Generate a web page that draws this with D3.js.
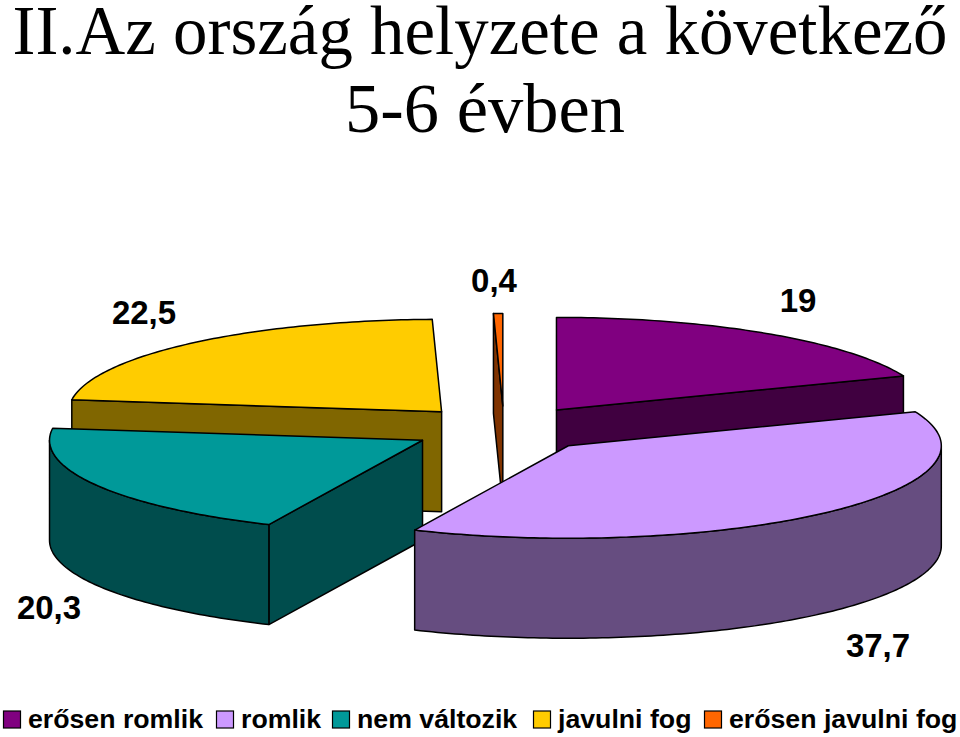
<!DOCTYPE html>
<html>
<head>
<meta charset="utf-8">
<script src="https://cdnjs.cloudflare.com/ajax/libs/d3/7.8.5/d3.min.js"></script>
<style>
html, body { margin: 0; padding: 0; background: #fff; }
svg { display: block; }
.title { font-family: "Liberation Serif", serif; font-size: 69px; fill: #000; text-anchor: middle; }
.val { font-family: "Liberation Sans", sans-serif; font-size: 33px; font-weight: bold; fill: #000; text-anchor: middle; }
.leg { font-family: "Liberation Sans", sans-serif; font-size: 26.7px; font-weight: bold; fill: #000; }
</style>
</head>
<body>
<svg width="960" height="737"></svg>
<script>
var categories = ["erősen romlik", "romlik", "nem változik", "javulni fog", "erősen javulni fog"];
var values = [19, 37.7, 20.3, 22.5, 0.4];
var valueLabels = ["19", "37,7", "20,3", "22,5", "0,4"];
var colors = ["#800080", "#CC99FF", "#009999", "#FFCC00", "#FF6600"];
var titleLines = ["II.Az ország helyzete a következő", "5-6 évben"];

var svg = d3.select("svg");

var cx = 504, cy = 429,
	rx = 373, ry = 92.5,
	depth = 100,
	explode = 0.25;

var pie = d3.pie().sort(null).value(function(d){ return d; });
var line = d3.line();

var slices = pie(values).map(function(d, i){
	var mid = (d.startAngle + d.endAngle) / 2;
	d.i = i;
	d.mid = mid;
	d.x = cx + explode * rx * Math.sin(mid);
	d.y = cy - explode * ry * Math.cos(mid);
	return d;
});

// rim point of a slice, at angle a and h pixels down
function rim(d, a, h){
	return [d.x + rx * Math.sin(a), d.y - ry * Math.cos(a) + h];
}

function arcPoints(d, a0, a1, h){
	var n = Math.max(2, Math.ceil((a1 - a0) * 60));
	return d3.range(n + 1).map(function(k){
		return rim(d, a0 + (a1 - a0) * k / n, h);
	});
}

function sideColor(c){
	var r = d3.rgb(c);
	return d3.rgb(r.r / 2, r.g / 2, r.b / 2).formatHex();
}

function wall(d, a){
	var p = rim(d, a, 0), q = rim(d, a, depth);
	return line([[d.x, d.y], p, q, [d.x, d.y + depth]]) + "Z";
}

// back slices first
var order = slices.slice().sort(function(a, b){ return Math.cos(b.mid) - Math.cos(a.mid); });

var groups = svg.append("g").selectAll("g").data(order).enter().append("g");

groups.each(function(d){
	var g = d3.select(this),
		fill = colors[d.i],
		side = sideColor(fill),
		faces = [];

	// the cut faces that look towards the viewer
	if (Math.sin(d.startAngle) < 0) faces.push(wall(d, d.startAngle));
	if (Math.sin(d.endAngle) > 1e-6) faces.push(wall(d, d.endAngle));

	// outer wall, front half only
	var a0 = Math.max(d.startAngle, Math.PI / 2),
		a1 = Math.min(d.endAngle, 3 * Math.PI / 2);
	if (a1 > a0) {
		faces.push(line(arcPoints(d, a0, a1, 0).concat(arcPoints(d, a0, a1, depth).reverse())) + "Z");
	}

	g.selectAll("path.side").data(faces).enter().append("path")
		.attr("class", "side")
		.attr("d", function(f){ return f; })
		.attr("fill", side)
		.attr("stroke", "#000")
		.attr("stroke-width", 1.5)
		.attr("stroke-linejoin", "round");

	g.append("path")
		.attr("d", line([[d.x, d.y]].concat(arcPoints(d, d.startAngle, d.endAngle, 0))) + "Z")
		.attr("fill", fill)
		.attr("stroke", "#000")
		.attr("stroke-width", 1.5)
		.attr("stroke-linejoin", "round");
});

svg.selectAll("text.title").data(titleLines).enter().append("text")
	.attr("class", "title")
	.attr("x", function(d, i){ return i ? 485 : 480; })
	.attr("y", function(d, i){ return i ? 132 : 54; })
	.attr("textLength", function(d, i){ return i ? 280 : 935; })
	.attr("lengthAdjust", "spacingAndGlyphs")
	.text(function(d){ return d; });

var labelX = [798, 878, 49, 144, 494],
	labelY = [312, 657, 619, 324, 292];

svg.selectAll("text.val").data(valueLabels).enter().append("text")
	.attr("class", "val")
	.attr("x", function(d, i){ return labelX[i]; })
	.attr("y", function(d, i){ return labelY[i]; })
	.text(function(d){ return d; });

var legendX = [3.5, 216.5, 332.5, 533.5, 704.5];

var legend = svg.selectAll("g.legend").data(categories).enter().append("g")
	.attr("class", "legend")
	.attr("transform", function(d, i){ return "translate(" + legendX[i] + ",711)"; });

legend.append("rect")
	.attr("width", 17).attr("height", 17)
	.attr("fill", function(d, i){ return colors[i]; })
	.attr("stroke", "#000")
	.attr("stroke-width", 1.2);

legend.append("text")
	.attr("class", "leg")
	.attr("x", 24.5)
	.attr("y", 17)
	.text(function(d){ return d; });
</script>
</body>
</html>
